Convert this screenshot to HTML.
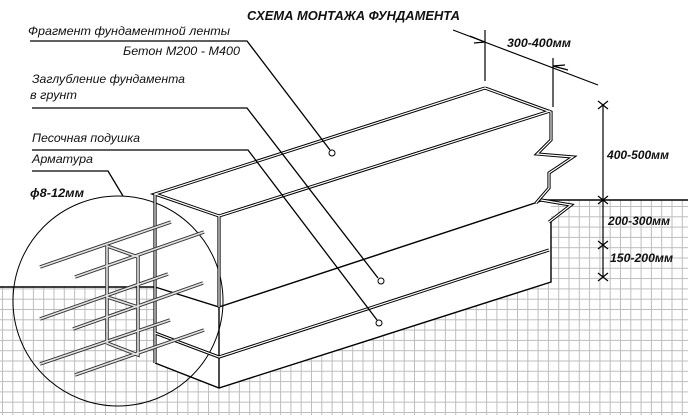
<!DOCTYPE html>
<html><head><meta charset="utf-8"><style>
html,body{margin:0;padding:0;background:#fff;}
svg{display:block}
text{font-family:"Liberation Sans",sans-serif;font-style:italic;fill:#111}
</style></head><body>
<svg width="688" height="415" viewBox="0 0 688 415" xmlns="http://www.w3.org/2000/svg">
<defs>
<pattern id="g" width="10.3" height="10.3" patternUnits="userSpaceOnUse" x="2" y="0">
<path d="M0 0.5H10.3M0.5 0V10.3" stroke="#bdbdbd" stroke-width="1" fill="none"/>
</pattern>
<clipPath id="gc"><polygon points="0,287 155,287 155,363 219,388 551,282 551,200 688,200 688,415 0,415"/></clipPath>
</defs>
<rect x="0" y="0" width="688" height="415" fill="url(#g)" clip-path="url(#gc)"/>
<line x1="0" y1="287" x2="155" y2="287" stroke="#000" stroke-width="1.5"/>
<line x1="541" y1="200" x2="688" y2="200" stroke="#000" stroke-width="1.5"/>

<circle cx="118" cy="301" r="105" fill="none" stroke="#000" stroke-width="1"/>

<g stroke="#000" stroke-width="1.4" fill="none">
<polyline points="155,287 219,307 541,201"/>
<polyline points="155,363 219,388 551,282 551,222"/>
<line x1="219" y1="307" x2="219" y2="388"/>
</g>
<g fill="none" stroke-linejoin="miter">
<g stroke="#000" stroke-width="3.2">
<polyline points="485,88 155,194 219,216 550,111"/>
<polyline points="485,88 551,112 551,140 537,154 573,157 549,173 549,188 536,203"/>
<polyline points="541,200 571,205 549,222"/>
<line x1="155" y1="194" x2="155" y2="363"/>
<line x1="219" y1="216" x2="219" y2="307"/>
<polyline points="155,333 219,357 549,250"/>
</g>
<g stroke="#fff" stroke-width="1.2">
<polyline points="485,88 155,194 219,216 550,111"/>
<polyline points="485,88 551,112 551,140 537,154 573,157 549,173 549,188 536,203"/>
<polyline points="541,200 571,205 549,222"/>
<line x1="155" y1="194" x2="155" y2="363"/>
<line x1="219" y1="216" x2="219" y2="307"/>
<polyline points="155,333 219,357 549,250"/>
</g>
</g>

<g fill="none" stroke-linecap="butt">
<g stroke="#333" stroke-width="3.5">
<line x1="40" y1="267" x2="171" y2="222"/><line x1="75" y1="277" x2="204" y2="232"/>
<line x1="40" y1="319" x2="168" y2="274"/><line x1="73" y1="329" x2="203" y2="283"/>
<line x1="40" y1="364" x2="170" y2="320"/><line x1="75" y1="375" x2="204" y2="330"/>
<polyline points="107,343 107,246 138,257 138,355 107,343"/>
<polyline points="107,297 138,307"/>
</g>
<g stroke="#e4e4e4" stroke-width="1.6">
<line x1="40" y1="267" x2="171" y2="222"/><line x1="75" y1="277" x2="204" y2="232"/>
<line x1="40" y1="319" x2="168" y2="274"/><line x1="73" y1="329" x2="203" y2="283"/>
<line x1="40" y1="364" x2="170" y2="320"/><line x1="75" y1="375" x2="204" y2="330"/>
<polyline points="107,343 107,246 138,257 138,355 107,343"/>
<polyline points="107,297 138,307"/>
</g>
</g>

<g fill="none" stroke="#000" stroke-width="1.3">
<polyline points="30,41 247,41 330,150"/>
<polyline points="32,108 247,108 378,278"/>
<polyline points="32,150 248,150 377,320"/>
<polyline points="32,171 108,171 123,196"/>
</g>
<g fill="#fff" stroke="#000" stroke-width="1">
<circle cx="332" cy="153" r="3"/><circle cx="381" cy="281" r="3"/><circle cx="379" cy="323" r="3"/>
</g>

<g stroke="#000" stroke-width="1.2" fill="none">
<line x1="453" y1="30" x2="598" y2="85"/>
<line x1="485" y1="30" x2="485" y2="81"/>
<line x1="553" y1="58" x2="553" y2="107"/>
<path d="M470,36 L485,42 L474,43" />
<path d="M568,70 L553,66 L565,65"/>
<line x1="603" y1="105" x2="603" y2="277"/>
<path d="M598,101 L608,109 M598,109 L608,101"/>
<path d="M598,196 L608,204 M598,204 L608,196"/>
<path d="M598,241 L608,249 M598,249 L608,241"/>
<path d="M598,273 L608,281 M598,281 L608,273"/>
</g>

<text x="247" y="20" font-size="12.5" font-weight="bold" textLength="213" lengthAdjust="spacingAndGlyphs">СХЕМА МОНТАЖА ФУНДАМЕНТА</text>
<text x="28" y="35" font-size="12" textLength="202" lengthAdjust="spacingAndGlyphs">Фрагмент фундаментной ленты</text>
<text x="123" y="55" font-size="12" textLength="117" lengthAdjust="spacingAndGlyphs">Бетон  М200 - М400</text>
<text x="32" y="83" font-size="12" textLength="153" lengthAdjust="spacingAndGlyphs">Заглубление фундамента</text>
<text x="30" y="99" font-size="12" textLength="47" lengthAdjust="spacingAndGlyphs">в грунт</text>
<text x="32" y="142" font-size="12" textLength="108" lengthAdjust="spacingAndGlyphs">Песочная подушка</text>
<text x="32" y="163" font-size="12" textLength="61" lengthAdjust="spacingAndGlyphs">Арматура</text>
<text x="30" y="197" font-size="12" font-weight="bold" textLength="54" lengthAdjust="spacingAndGlyphs">ϕ8-12мм</text>
<text x="507" y="47" font-size="12" font-weight="bold" textLength="64" lengthAdjust="spacingAndGlyphs">300-400мм</text>
<text x="607" y="159" font-size="12" font-weight="bold" textLength="62" lengthAdjust="spacingAndGlyphs">400-500мм</text>
<text x="608" y="225" font-size="12" font-weight="bold" textLength="62" lengthAdjust="spacingAndGlyphs">200-300мм</text>
<text x="610" y="262" font-size="12" font-weight="bold" textLength="63" lengthAdjust="spacingAndGlyphs">150-200мм</text>
</svg>
</body></html>
